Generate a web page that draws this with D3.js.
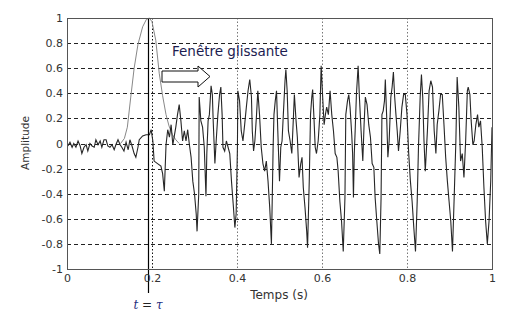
<!DOCTYPE html>
<html>
<head>
<meta charset="utf-8">
<script src="https://cdn.jsdelivr.net/npm/d3@7"></script>
<style>
	body { margin: 0; background: #fff; }
	svg { display: block; }
</style>
</head>
<body>
<svg width="529" height="325"></svg>
<script>
// signal (time in s, amplitude)
let sigT = [0.002,0.007,0.012,0.016,0.021,0.026,0.031,0.035,0.040,0.045,0.049,0.054,0.059,0.064,0.068,0.073,0.078,0.082,0.087,0.092,
	0.096,0.101,0.106,0.111,0.115,0.120,0.125,0.129,0.134,0.139,0.144,0.148,0.153,0.158,0.162,0.167,
	0.170,0.178,0.186,0.194,0.198,0.202,0.205,0.213,0.221,0.225,0.229,0.233,0.237,0.241,0.245,0.249,0.253,0.256,0.260,0.264,
	0.268,0.272,0.276,0.280,0.284,0.288,0.292,0.296,0.300,0.304,0.306,0.310,0.311,0.315,0.319,0.323,0.327,0.329,0.332,0.335,0.339,
	0.342,0.344,0.348,0.351,0.355,0.359,0.362,0.365,0.367,0.371,0.375,0.379,0.383,0.387,0.391,0.395,0.398,0.401,0.402,0.406,
	0.410,0.414,0.418,0.422,0.426,0.430,0.434,0.436,0.439,0.442,0.446,0.449,0.453,0.457,0.461,0.465,0.469,0.473,0.477,0.481,
	0.483,0.485,0.487,0.490,0.493,0.496,0.500,0.503,0.506,
	0.509,0.513,0.515,0.518,0.521,0.525,0.529,0.533,0.535,0.539,0.542,0.546,0.550,0.553,0.556,0.560,0.564,0.566,0.570,0.573,
	0.576,0.578,0.581,0.584,0.587,0.591,0.595,0.598,0.602,0.605,0.608,0.611,0.615,0.619,0.623,0.627,0.631,0.635,0.638,0.642,
	0.646,0.650,0.654,0.656,0.660,0.663,0.666,0.670,0.672,
	0.674,0.676,0.678,0.681,0.685,0.688,0.692,0.696,0.699,0.702,0.706,0.710,0.714,0.718,0.722,0.725,0.729,0.733,0.736,0.739,
	0.741,0.744,0.747,0.749,0.752,0.755,0.758,0.762,0.765,0.768,0.771,0.774,0.777,0.780,0.784,0.788,0.792,0.796,0.800,0.804,
	0.808,0.812,0.816,0.820,0.824,0.827,0.831,0.834,0.837,0.840,0.843,
	0.848,0.852,0.856,0.860,0.864,0.868,0.871,0.875,0.879,0.883,0.887,0.891,0.895,0.899,0.903,0.907,0.911,0.915,0.918,0.922,
	0.926,0.930,0.934,0.938,0.942,0.944,0.948,0.951,0.955,0.958,0.962,0.966,0.969,0.973,0.977,0.981,0.985,0.989,0.993,0.997,1.0]
let sigV = [-0.02,0.01,-0.03,0.00,-0.03,0.02,-0.02,-0.08,-0.03,-0.01,-0.06,0.00,-0.02,-0.03,0.03,-0.01,0.02,-0.03,0.03,0.03,
	-0.02,-0.03,-0.01,-0.05,-0.01,0.03,-0.01,-0.03,-0.06,0.01,-0.05,0.03,-0.02,-0.08,-0.11,-0.03,
	0.03,0.06,0.07,0.07,0.11,0.02,-0.14,-0.16,-0.18,-0.24,-0.38,-0.01,0.11,0.05,0.15,-0.01,0.07,0.13,0.23,0.31,
	0.18,0.02,0.10,0.02,0.11,-0.01,-0.11,-0.30,-0.40,-0.56,-0.70,-0.40,0.37,0.18,0.13,-0.03,-0.42,-0.08,0.18,0.23,0.46,
	0.39,0.18,-0.16,0.02,0.23,0.39,0.45,0.23,-0.03,-0.06,0.02,-0.03,-0.08,-0.30,-0.48,-0.67,-0.56,-0.03,0.42,0.34,
	0.10,0.02,0.15,0.29,0.42,0.51,0.37,0.10,-0.06,0.02,0.23,0.42,0.23,-0.03,-0.16,-0.22,-0.14,-0.30,-0.51,-0.80,
	-0.43,-0.03,0.23,0.34,0.42,0.10,-0.30,-0.03,0.02,
	0.23,0.50,0.59,0.42,0.10,0.02,-0.08,0.23,0.39,0.18,0.05,-0.27,-0.16,-0.11,-0.35,-0.51,-0.70,-0.83,-0.30,0.23,
	0.37,0.43,0.21,-0.03,-0.08,0.02,0.23,0.62,0.34,0.15,0.23,0.29,0.23,0.42,0.23,0.10,-0.08,-0.11,-0.22,-0.46,
	-0.62,-0.86,-0.43,0.23,0.34,0.39,0.29,0.07,-0.08,
	-0.43,-0.08,0.10,0.39,0.62,0.37,0.10,-0.14,0.15,0.37,0.31,0.15,0.05,-0.16,-0.19,-0.43,-0.62,-0.80,-0.88,-0.43,
	0.23,0.26,0.34,0.51,0.23,-0.11,0.02,0.37,0.45,0.57,0.37,0.23,0.10,-0.06,0.10,0.29,0.39,0.39,0.23,-0.08,
	-0.30,-0.46,-0.67,-0.86,-0.46,-0.03,0.37,0.55,0.37,0.02,-0.22,
	0.10,0.42,0.50,0.45,0.10,-0.08,0.15,0.26,0.39,0.39,0.15,-0.11,-0.30,-0.46,-0.62,-0.86,-0.43,0.02,0.53,0.29,
	-0.14,-0.08,-0.27,0.02,0.42,0.45,0.39,0.18,-0.01,0.02,0.15,0.23,0.13,0.18,-0.03,-0.35,-0.62,-0.80,-0.62,-0.30,0.13]

// window (grey bell) around t = tau
let winT = [0.126,0.135,0.142,0.150,0.158,0.167,0.178,0.187,0.194,0.200,0.209,0.217,0.225,0.233,0.240,0.248,0.256,0.264]
let winV = [0,0.04,0.13,0.37,0.60,0.79,0.93,0.99,1.0,0.97,0.82,0.56,0.38,0.23,0.14,0.07,0.03,0]

let tau = 0.191
let xTicks = [0, 0.2, 0.4, 0.6, 0.8, 1]
let yTicks = [-1, -0.8, -0.6, -0.4, -0.2, 0, 0.2, 0.4, 0.6, 0.8, 1]

let svg = d3.select('svg')
let plotLeft = 67, plotRight = 492, plotTop = 18, plotBottom = 269
let x = d3.scaleLinear().domain([0, 1]).range([plotLeft, plotRight])
let y = d3.scaleLinear().domain([-1, 1]).range([plotBottom, plotTop])
let sans = '"DejaVu Sans", Verdana, sans-serif'

// horizontal dashed grid
svg.append('g')
	.selectAll('line')
	.data(yTicks.filter(d => d > -1 && d < 1))
	.join('line')
	.attr('x1', plotLeft).attr('x2', plotRight)
	.attr('y1', d => Math.round(y(d)) + 0.5).attr('y2', d => Math.round(y(d)) + 0.5)
	.attr('stroke', '#222').attr('stroke-width', 1).attr('stroke-dasharray', '4,3')

// vertical dotted grid
svg.append('g')
	.selectAll('line')
	.data(xTicks.filter(d => d > 0 && d < 1))
	.join('line')
	.attr('x1', d => Math.round(x(d)) + 0.5).attr('x2', d => Math.round(x(d)) + 0.5)
	.attr('y1', plotTop).attr('y2', plotBottom)
	.attr('stroke', d => d == 0.2 ? '#111' : '#777').attr('stroke-width', 1).attr('stroke-dasharray', '1.5,2')

let line = d3.line().x(d => x(d[0])).y(d => y(d[1]))

svg.append('path')
	.datum(d3.zip(winT, winV))
	.attr('d', line)
	.attr('fill', 'none').attr('stroke', '#888').attr('stroke-width', 1)

svg.append('path')
	.datum(d3.zip(sigT, sigV))
	.attr('d', line)
	.attr('fill', 'none').attr('stroke', '#262626').attr('stroke-width', 1.1)

// t = tau marker
svg.append('line')
	.attr('x1', Math.round(x(tau)) + 0.5).attr('x2', Math.round(x(tau)) + 0.5)
	.attr('y1', plotTop).attr('y2', 293)
	.attr('stroke', '#000').attr('stroke-width', 1.2)

// frame
svg.append('rect')
	.attr('x', plotLeft + 0.5).attr('y', plotTop + 0.5)
	.attr('width', plotRight - plotLeft).attr('height', plotBottom - plotTop)
	.attr('fill', 'none').attr('stroke', '#555')

// axes labels
let yAxis = svg.append('g')
	.attr('transform', 'translate(' + plotLeft + ',0)')
	.call(d3.axisLeft(y).tickValues(yTicks).tickSize(0).tickPadding(4).tickFormat(d => String(d)))
yAxis.select('.domain').remove()

let xAxis = svg.append('g')
	.attr('transform', 'translate(0,' + plotBottom + ')')
	.call(d3.axisBottom(x).tickValues(xTicks).tickSize(0).tickPadding(5).tickFormat(d => String(d)))
xAxis.select('.domain').remove()

svg.selectAll('.tick text')
	.attr('font-family', sans).attr('font-size', 11).attr('fill', '#333')

svg.append('text')
	.attr('transform', 'translate(29,143) rotate(-90)')
	.attr('text-anchor', 'middle')
	.attr('font-family', sans).attr('font-size', 10.5).attr('fill', '#333')
	.text('Amplitude')

svg.append('text')
	.attr('x', 279).attr('y', 299)
	.attr('text-anchor', 'middle')
	.attr('font-family', sans).attr('font-size', 12).attr('fill', '#333')
	.text('Temps (s)')

// sliding window annotation
svg.append('text')
	.attr('x', 172).attr('y', 56)
	.attr('font-family', sans).attr('font-size', 13.5).attr('fill', '#1c1c50')
	.text('Fenêtre glissante')

let arrow = [[162, 71], [198, 71], [198, 66], [210, 76.5], [198, 87], [198, 82], [162, 82]]
svg.append('path')
	.attr('d', 'M' + arrow.map(p => p.join(',')).join('L') + 'Z')
	.attr('fill', '#fff').attr('stroke', '#111').attr('stroke-width', 1)

let tauLabel = svg.append('text')
	.attr('x', 148).attr('y', 309)
	.attr('text-anchor', 'middle')
	.attr('font-family', '"DejaVu Serif", "Liberation Serif", serif').attr('font-size', 12).attr('font-style', 'italic')
	.attr('fill', '#1f2f80')
tauLabel.append('tspan').text('t')
tauLabel.append('tspan').attr('fill', '#222').attr('font-style', 'normal').text(' = ')
tauLabel.append('tspan').text('τ')
</script>
</body>
</html>
